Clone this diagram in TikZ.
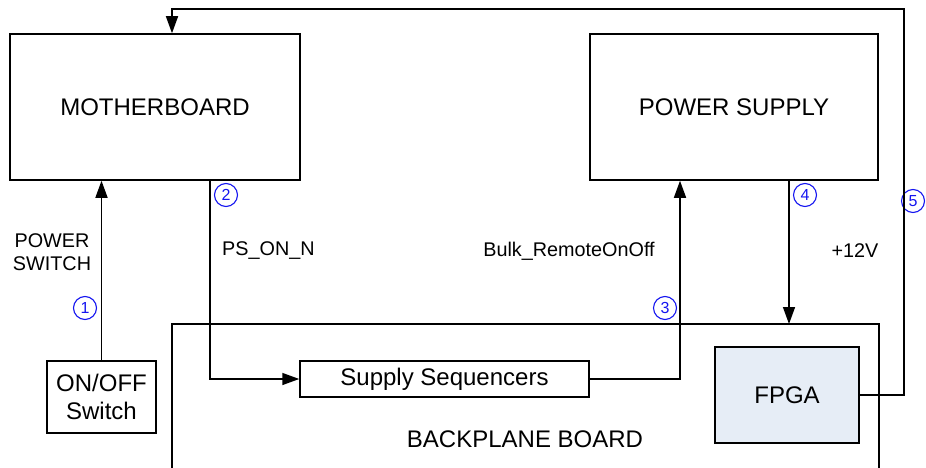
\documentclass[tikz,border=0pt]{standalone}
\usepackage{fontspec}
\setmainfont{Liberation Sans}
\usetikzlibrary{arrows.meta}
\definecolor{numblue}{RGB}{20,20,240}
\definecolor{fpgafill}{RGB}{230,237,246}
\tikzset{
  box/.style={draw=black, line width=1.5pt, inner sep=0pt, font=\fontsize{24}{28}\selectfont, align=center},
  lbl/.style={font=\fontsize{19.8}{23}\selectfont, align=center, inner sep=0pt},
  num/.style={circle, draw=numblue, text=numblue, line width=1.1pt, minimum size=23pt, inner sep=0pt, font=\fontsize{16}{16}\selectfont},
  conn/.style={line width=1.5pt},
  arr/.style={conn, -{Triangle[length=17pt,width=12pt]}},
}
\begin{document}
\begin{tikzpicture}[x=1pt,y=-1pt]
\useasboundingbox (0,0) rectangle (926,468);
% boxes
\node[box, minimum width=290pt, minimum height=146pt] (mb) at (155,107) {MOTHERBOARD};
\node[box, minimum width=288pt, minimum height=146pt] (ps) at (734,107) {POWER SUPPLY};
\node[box, minimum width=109pt, minimum height=72pt] (sw) at (101.5,397) {ON/OFF\\Switch};
\node[box, minimum width=289pt, minimum height=36pt] (seq) at (444.5,379) {Supply Sequencers};
\node[box, fill=fpgafill, minimum width=144pt, minimum height=96pt] (fpga) at (787,395) {FPGA};
% backplane board
\coordinate (bpl) at (172,324);
\coordinate (bpr) at (879,324);
\draw[conn] (172,470) -- (bpl) -- (bpr) -- (879,470);
\node[lbl, font=\fontsize{24}{28}\selectfont] (bp) at (525,439) {BACKPLANE BOARD};
% labels
\node[lbl] (l1) at (52,252) {POWER\\SWITCH};
\node[lbl, anchor=west] (l2) at (222,251) {PS\_ON\_N};
\node[lbl] (l3) at (569,251) {Bulk\_RemoteOnOff};
\node[lbl] (l4) at (855,251) {+12V};
% numbers
\node[num] (n1) at (85,308) {1};
\node[num] (n2) at (226,195) {2};
\node[num] (n3) at (665,308) {3};
\node[num] (n4) at (805,195) {4};
\node[num] (n5) at (913,201) {5};
% connectors
\draw[arr] (sw.north) -- (sw.north |- mb.south);
\draw[arr] ([xshift=55pt]mb.south) |- (seq.west);
\draw[arr] (seq.east) -| ([xshift=-54pt]ps.south);
\coordinate (p4) at ([xshift=55pt]ps.south |- bpl);
\draw[arr] ([xshift=55pt]ps.south) -- (p4);
\coordinate (top) at (904,9);
\draw[arr] (fpga.east) -| (top) -| ([xshift=17pt]mb.north);
\end{tikzpicture}
\end{document}
